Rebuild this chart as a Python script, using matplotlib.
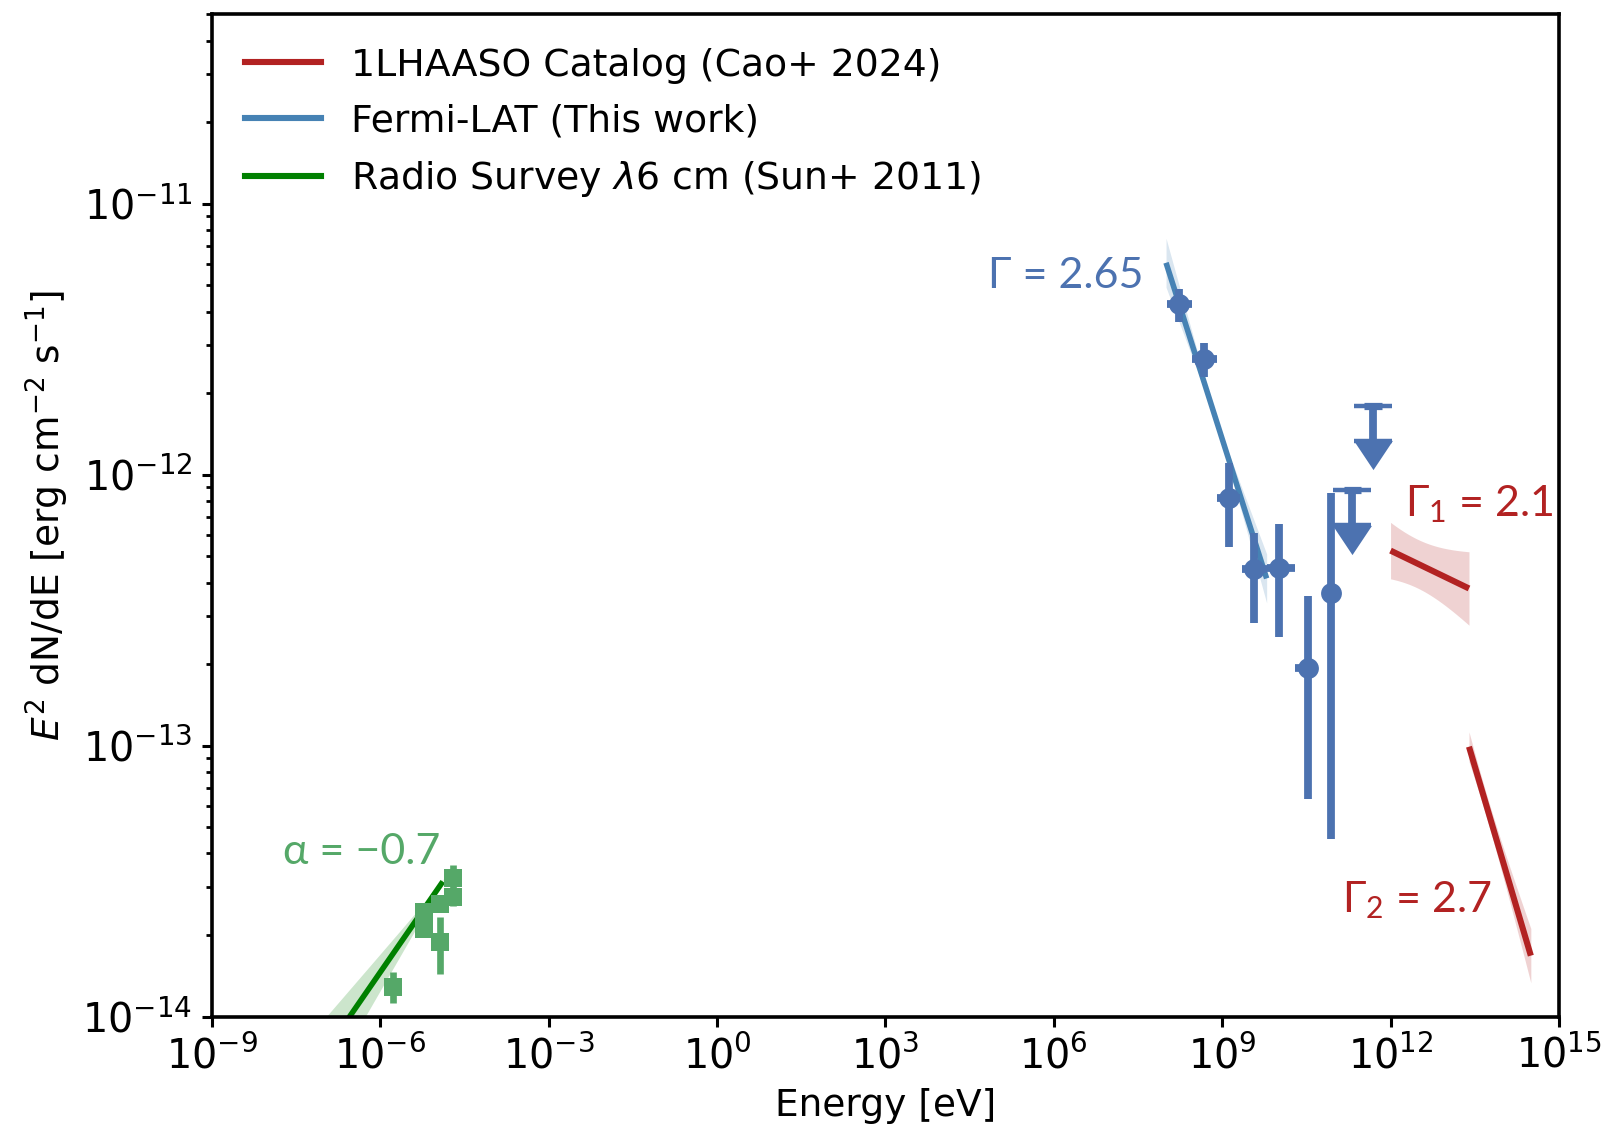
"""Broadband SED: radio, Fermi-LAT and 1LHAASO spectra."""

import matplotlib.pyplot as plt
import numpy as np
from matplotlib.lines import Line2D

FERMI_PT = "#4c72b0"
FERMI_FIT = "steelblue"
RADIO_PT = "#55a868"
RADIO_FIT = "green"
LHAASO = "firebrick"
ANNOT_FONT = ["Lato", "DejaVu Sans"]

# index labels use Lato for the math subscripts as well
plt.rcParams["mathtext.rm"] = "Lato"
plt.rcParams["mathtext.it"] = "Lato:italic"
plt.rcParams["mathtext.bf"] = "Lato:bold"

# Radio flux points [eV], [erg cm^-2 s^-1]
radio_e = np.array([1.70e-6, 5.94e-6, 5.94e-6, 1.14e-5, 1.14e-5, 1.95e-5, 1.95e-5])
radio_f = np.array([1.29e-14, 2.43e-14, 2.11e-14, 2.60e-14, 1.89e-14, 3.24e-14, 2.76e-14])
radio_ferr = np.array([0.17e-14, 0.15e-14, 0.15e-14, 0.15e-14, 0.45e-14, 0.40e-14, 0.20e-14])

# Fermi-LAT flux points with energy bins and 1-sigma ranges
fermi_e = np.array([1.72e8, 4.74e8, 1.32e9, 3.70e9, 1.04e10, 3.43e10, 8.70e10])
fermi_e_lo = np.array([1.03e8, 2.86e8, 7.98e8, 2.23e9, 6.21e9, 1.99e10, 8.70e10])
fermi_e_hi = np.array([2.86e8, 7.98e8, 2.08e9, 6.21e9, 1.98e10, 4.84e10, 8.70e10])
fermi_f = np.array([4.28e-12, 2.67e-12, 8.20e-13, 4.47e-13, 4.53e-13, 1.93e-13, 3.67e-13])
fermi_f_lo = np.array([3.66e-12, 2.29e-12, 5.41e-13, 2.84e-13, 2.51e-13, 6.34e-14, 4.51e-14])
fermi_f_hi = np.array([4.85e-12, 3.05e-12, 1.10e-12, 6.07e-13, 6.56e-13, 3.56e-13, 8.55e-13])

# Fermi-LAT 95% upper limits
ul_e = np.array([2.10e11, 4.93e11])
ul_f = np.array([8.8e-13, 1.80e-12])

# Power-law models: (E_min, E_max, E0, F0 at E0, slope in E^2 dN/dE, sigma_norm [dex], sigma_slope)
RADIO_ALPHA = -0.7
FERMI_GAMMA = 2.65
WCDA_GAMMA = 2.1
KM2A_GAMMA = 2.7

radio_model = (1e-7, 1.3e-5, 1.3e-5, 3.15e-14, RADIO_ALPHA + 1.0, 0.01, 0.06)
fermi_model = (1e8, 6.2e9, 7.9e8, 1.58e-12, 2.0 - FERMI_GAMMA, 0.012, 0.10)
wcda_model = (1e12, 2.5e13, 3e12, 4.7e-13, 2.0 - WCDA_GAMMA, 0.09, 0.11)
km2a_model = (2.5e13, 3.16e14, 5e13, 6.1e-14, 2.0 - KM2A_GAMMA, 0.043, 0.113)


def butterfly(model):
    e_min, e_max, e0, f0, slope, sig_n, sig_s = model
    e = np.geomspace(e_min, e_max, 200)
    d = np.log10(e / e0)
    f = f0 * (e / e0) ** slope
    w = np.sqrt(sig_n**2 + (sig_s * d) ** 2)
    return e, f, f * 10**-w, f * 10**w


def draw_model(ax, model, color, lw, band_alpha=0.2, zorder=2):
    e, f, lo, hi = butterfly(model)
    ax.fill_between(e, lo, hi, color=color, alpha=band_alpha, lw=0, zorder=zorder - 1)
    ax.plot(e, f, color=color, lw=lw, zorder=zorder, solid_capstyle="butt")


fig = plt.figure(figsize=(8.01, 5.685), dpi=200)
ax = fig.add_axes([0.1323, 0.1059, 0.8408, 0.8815])

# models
draw_model(ax, radio_model, RADIO_FIT, 2.0)
draw_model(ax, fermi_model, FERMI_FIT, 2.0)
draw_model(ax, wcda_model, LHAASO, 2.2)
draw_model(ax, km2a_model, LHAASO, 2.2)

# radio points
ax.errorbar(
    radio_e, radio_f, yerr=radio_ferr,
    fmt="s", ms=6.8, color=RADIO_PT, mew=0, elinewidth=2.4, capsize=0, zorder=4,
)

# Fermi-LAT points
ax.errorbar(
    fermi_e, fermi_f,
    xerr=[fermi_e - fermi_e_lo, fermi_e_hi - fermi_e],
    yerr=[fermi_f - fermi_f_lo, fermi_f_hi - fermi_f],
    fmt="o", ms=7.5, color=FERMI_PT, mew=0, elinewidth=2.8, capsize=0, zorder=4,
)

# upper limits: stem with cap, short energy bar and a solid arrow head
ax.errorbar(
    ul_e, ul_f, yerr=[ul_f * (1 - 10**-0.13), np.zeros_like(ul_f)],
    fmt="none", ecolor=FERMI_PT, elinewidth=2.8, capsize=6.8, capthick=1.6, zorder=4,
)
ax.errorbar(
    ul_e, ul_f, xerr=[ul_e * (1 - 10**-0.16), ul_e * (10**0.16 - 1)],
    fmt="none", ecolor=FERMI_PT, elinewidth=2.6, capsize=0, zorder=4,
)
arrow = [(-1.0, 0.75), (1.0, 0.75), (0.0, -0.75), (-1.0, 0.75)]
ax.plot(ul_e, ul_f * 10**-0.184, ls="none", marker=arrow, ms=14,
        color=FERMI_PT, mew=0, zorder=4)

# index labels
label_kw = dict(fontsize=15.5, family=ANNOT_FONT, va="center", math_fontfamily="custom")
ax.text(10**7.607, 10**-11.268, "Γ = 2.65", color=FERMI_PT, ha="right", **label_kw)
ax.text(10**-7.735, 10**-13.393, "α = −0.7", color=RADIO_PT, ha="left", **label_kw)
ax.text(10**12.258, 10**-12.11, r"Γ$_1$ = 2.1", color=LHAASO, ha="left", **label_kw)
ax.text(10**11.127, 10**-13.57, r"Γ$_2$ = 2.7", color=LHAASO, ha="left", **label_kw)

ax.set_xscale("log")
ax.set_yscale("log")
ax.set_xlim(1e-9, 1e15)
ax.set_ylim(1e-14, 5e-11)
ax.set_xticks(10.0 ** np.arange(-9, 16, 3))
ax.xaxis.set_minor_locator(plt.NullLocator())
ax.yaxis.set_minor_formatter(plt.NullFormatter())
ax.tick_params(labelsize=14.3, width=1.1)
ax.tick_params(which="minor", width=1.0)
for s in ax.spines.values():
    s.set_linewidth(1.3)

ax.set_xlabel("Energy [eV]", fontsize=13.5)
ax.set_ylabel(r"$E^2$ dN/dE [erg cm$^{-2}$ s$^{-1}$]", fontsize=13.5)

handles = [
    Line2D([], [], color=LHAASO, lw=2.2),
    Line2D([], [], color=FERMI_FIT, lw=2.2),
    Line2D([], [], color=RADIO_FIT, lw=2.2),
]
labels = [
    "1LHAASO Catalog (Cao+ 2024)",
    "Fermi-LAT (This work)",
    r"Radio Survey $\lambda$6 cm (Sun+ 2011)",
]
ax.legend(handles, labels, loc="upper left", frameon=False, fontsize=13.6,
          handlelength=2.0, labelspacing=0.52, borderaxespad=0.48)

fig.savefig("out.png", dpi=200, facecolor="white")
plt.close(fig)
